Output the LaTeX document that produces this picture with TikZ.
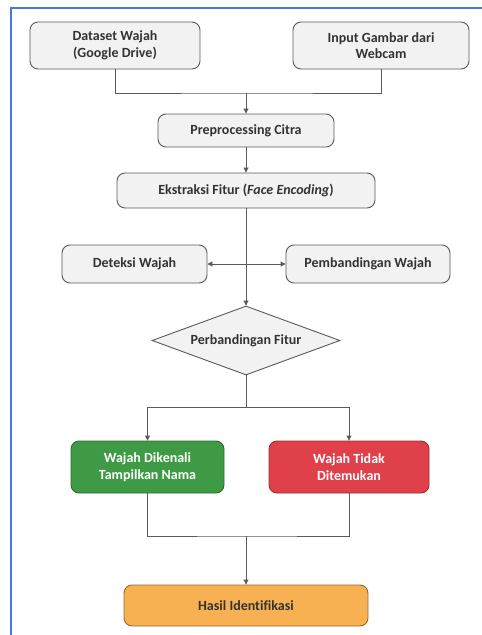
\documentclass[tikz,border=0pt]{standalone}
\usepackage{fontspec}
\setmainfont{Carlito}[Ligatures=CommonOff]
\usetikzlibrary{shapes.geometric,arrows.meta}
\definecolor{frameblue}{HTML}{4A78D8}
\definecolor{boxfill}{HTML}{F2F2F2}
\definecolor{boxline}{HTML}{5A5A5A}
\definecolor{txt}{HTML}{333333}
\definecolor{okgreen}{HTML}{3E9A44}
\definecolor{nored}{HTML}{E0404A}
\definecolor{resorange}{HTML}{F7B153}
\begin{document}
\begin{tikzpicture}[x=1pt,y=-1pt,
  box/.style={draw=boxline, fill=boxfill, rounded corners=8pt, line width=0.9pt,
    align=center, inner sep=2pt, text=txt, font=\fontsize{14}{16.5}\selectfont\bfseries},
  conn/.style={draw=boxline, line width=0.9pt},
  arr/.style={conn, -{Triangle[length=5pt,width=5pt]}}]
\useasboundingbox (0,0) rectangle (482,635);
\draw[frameblue, line width=2pt] (11,636) -- (11,8) -- (483,8);

\node[box, minimum width=170pt, minimum height=47pt] (ds) at (115,45.5) {Dataset Wajah\\(Google Drive)};
\node[box, minimum width=176pt, minimum height=47pt] (wc) at (381,45.5) {Input Gambar dari\\Webcam};
\node[box, minimum width=176pt, minimum height=33pt] (pre) at (246,130.5) {Preprocessing Citra};
\node[box, minimum width=258pt, minimum height=35pt] (ext) at (246,190.5) {Ekstraksi Fitur (\textit{Face Encoding})};
\node[box, minimum width=145pt, minimum height=38pt] (det) at (134.5,264) {Deteksi Wajah};
\node[box, minimum width=164pt, minimum height=38pt] (pem) at (368,264) {Pembandingan Wajah};
\node[box, diamond, rounded corners=0pt, aspect=2.7, minimum width=188pt, minimum height=69pt, inner sep=0pt] (dia) at (246,340.5) {Perbandingan Fitur};
\node[box, fill=okgreen, draw=okgreen!70!black, text=white, minimum width=153pt, minimum height=52pt] (ok) at (147.5,467) {Wajah Dikenali\\Tampilkan Nama};
\node[box, fill=nored, draw=nored!70!black, text=white, minimum width=160pt, minimum height=52pt] (no) at (349,467) {Wajah Tidak\\Ditemukan};
\node[box, fill=resorange, draw=resorange!60!black, minimum width=244pt, minimum height=41pt] (res) at (246,605.5) {Hasil Identifikasi};

\coordinate (j1) at (246,93);
\draw[conn] (ds.south) |- (j1) -| (wc.south);
\draw[arr] (j1) -- (pre.north);
\draw[arr] (pre.south) -- (ext.north);
\draw[arr] (ext.south) -- (dia.north);
\coordinate (mid) at (246,264);
\draw[arr] (mid) -- (det.east);
\draw[arr] (mid) -- (pem.west);
\coordinate (j2) at (246,407);
\draw[conn] (dia.south) -- (j2);
\draw[arr] (j2) -| (ok.north);
\draw[arr] (j2) -| (no.north);
\coordinate (j3) at (246,536);
\draw[conn] (ok.south) |- (j3) -| (no.south);
\draw[arr] (j3) -- (res.north);
\end{tikzpicture}
\end{document}
